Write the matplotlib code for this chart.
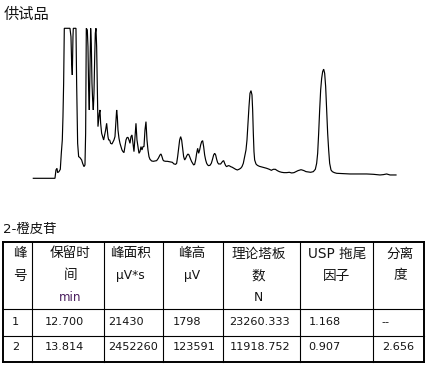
import matplotlib
matplotlib.use("Agg")
import matplotlib.pyplot as plt

plt.rcParams['font.family'] = ['DejaVu Sans', 'Noto Sans CJK SC']

# Chromatogram trace of the sample injection: time (s) and detector response (mV)
time_s = [0, 65, 68, 71, 73, 77, 81, 84, 87, 89, 91, 93, 110, 113, 115, 117, 119, 120, 128,
          130, 133, 136, 140, 145, 148, 152, 155, 157, 158, 159, 162, 164, 166, 168, 170, 172,
          174, 176, 178, 180, 182, 184, 186, 188, 190, 192, 194, 196, 198, 200, 202, 205, 208,
          211, 214, 217, 220, 222, 224, 226, 229, 232, 236, 239, 242, 245, 248, 250, 252, 254,
          257, 260, 263, 266, 269, 272, 275, 278, 281, 284, 287, 290, 293, 296, 299, 302, 305,
          308, 311, 314, 317, 320, 323, 326, 329, 332, 335, 338, 341, 344, 347, 350, 355, 360,
          365, 370, 375, 380, 383, 386, 389, 392, 397, 402, 407, 412, 417, 422, 427, 430, 433,
          436, 439, 442, 445, 448, 451, 454, 457, 460, 463, 466, 469, 472, 475, 478, 481, 484,
          487, 490, 493, 496, 499, 502, 505, 508, 511, 514, 517, 520, 523, 526, 530, 534, 537,
          541, 544, 547, 550, 553, 556, 559, 562, 565, 568, 571, 574, 577, 580, 583, 586, 589,
          592, 597, 602, 607, 612, 617, 622, 626, 630, 634, 638, 641, 644, 647, 650, 653, 656,
          658, 660, 662, 664, 668, 672, 678, 685, 692, 700, 708, 714, 720, 726, 732, 738, 745,
          752, 760, 768, 775, 782, 788, 794, 800, 803, 806, 812, 818, 825, 832, 840, 846, 850,
          853, 856, 859, 862, 865, 868, 871, 874, 877, 880, 883, 886, 889, 893, 897, 903, 910,
          930, 950, 980, 1000, 1020, 1030, 1040, 1050, 1060, 1070, 1088]
signal_mv = [0, 0, 10, 12, 6.8, 8, 10.8, 30, 46, 74, 114, 180, 180, 170, 138, 124, 170, 180, 180,
             114, 42, 26, 24.8, 22, 18, 14, 16, 54, 114, 180, 178, 158, 106, 82, 134, 180,
             162, 114, 94, 82, 102, 142, 174, 180, 158, 110, 62, 70, 78, 82, 66, 54, 50,
             46, 52, 58, 66, 58, 50, 46, 46, 42, 41.2, 43.6, 46, 50, 70, 82, 74, 58,
             48, 42, 38, 34, 32, 30.8, 38, 46, 48.8, 49.2, 46, 42, 50, 52, 42, 32, 50,
             66, 46, 38, 30, 32, 38, 34, 38, 38, 58, 68, 46, 34, 26, 22.8, 20.8, 20.4,
             20.8, 21.2, 24, 28, 29.2, 26, 22, 20.8, 20.4, 20.4, 20, 19.6, 19.2, 17.2, 16.8, 18, 26,
             36, 46, 50, 46, 36, 26, 22, 24, 26.8, 28.8, 28.8, 26, 22.8, 20, 18, 16, 16.8,
             22, 30, 36, 30, 34, 40, 44, 45.2, 38, 28, 22, 18, 16, 15.2, 15.6, 18, 22,
             28, 30, 28, 22.8, 18.8, 17.2, 17.2, 17.2, 18.8, 20.4, 21.2, 18, 15.2, 14, 14.8, 15.2, 14.8,
             14, 13.2, 12, 10.8, 10, 10.8, 12, 14, 18, 26, 34, 46, 66, 86, 102, 105.2, 100,
             82, 54, 32, 22, 17.2, 15.6, 14.4, 13.6, 12.8, 12, 10.8, 9.6, 10.8, 10.8, 9.2, 8, 7.2,
             6.8, 6.8, 7.2, 6.4, 6.8, 8, 9.2, 10.0, 10.3, 10.0, 9.2, 8, 7.6, 7.2, 8, 10.8, 18,
             30, 54, 82, 106, 120, 128, 131, 126, 110, 82, 54, 34, 18, 10, 8, 6.8, 6,
             5.6, 5.2, 5.2, 5.2, 4.8, 4.4, 4, 4.4, 5.2, 4, 4]

# Peak table for 2-橙皮苷
header_lines = [
    ["峰", "号", ""],
    ["保留时", "间", "min"],
    ["峰面积", "µV*s", ""],
    ["峰高", "µV", ""],
    ["理论塔板", "数", "N"],
    ["USP 拖尾", "因子", ""],
    ["分离", "度", ""],
]
peak_no = ["1", "2"]
retention_min = [12.700, 13.814]
area_uvs = [21430, 2452260]
height_uv = [1798, 123591]
plates_n = [23260.333, 11918.752]
usp_tailing = [1.168, 0.907]
resolution = [None, 2.656]

W, H = 428, 366
fig = plt.figure(figsize=(W / 100, H / 100), dpi=100)
fig.patch.set_facecolor("white")

# chromatogram panel
ax = fig.add_axes([33.3 / W, 1 - 178.3 / H, (396 - 33.3) / W, 150 / H])
ax.plot(time_s, signal_mv, color="black", lw=0.85, clip_on=False, solid_joinstyle="miter")
ax.set_xlim(0, 1088)
ax.set_ylim(0, 180)
ax.axis("off")

# overlay in pixel-like layout units for titles and the table
lay = fig.add_axes([0, 0, 1, 1])
lay.set_xlim(0, W)
lay.set_ylim(H, 0)
lay.axis("off")

cjk = ['Noto Sans CJK SC', 'DejaVu Sans']
mixed = ['DejaVu Sans', 'Noto Sans CJK SC']
ink = "#141414"

lay.text(3.5, 14, "供试品", family=cjk, fontsize=11, color=ink, ha="left", va="center")
lay.text(3.5, 229, "2-橙皮苷", family=mixed, fontsize=9.6, color=ink, ha="left", va="center")

col_edges = [3.3, 32.3, 104, 163.3, 222.7, 300, 372.7, 424]
row_edges = [242.3, 309, 335.7, 361.7]

# grid
for i, x in enumerate(col_edges):
    outer = i in (0, len(col_edges) - 1)
    lay.plot([x, x], [row_edges[0], row_edges[-1]], color="black",
             lw=1.4 if outer else 0.8, solid_capstyle="projecting")
for j, y in enumerate(row_edges):
    outer = j in (0, len(row_edges) - 1)
    lay.plot([col_edges[0], col_edges[-1]], [y, y], color="black",
             lw=1.4 if outer else 0.8, solid_capstyle="projecting")

# header cells
header_y = [253.5, 275.5, 297.5]
header_dx = [2.5, 2, -3, -1, -3, 0.5, 1.5]
for c, lines in enumerate(header_lines):
    cx = (col_edges[c] + col_edges[c + 1]) / 2 + header_dx[c]
    for r, s in enumerate(lines):
        if not s:
            continue
        latin_only = all(ord(ch) < 0x2E80 for ch in s)
        if s == "min":
            lay.text(cx, header_y[r], s, family=mixed, fontsize=8.6, color="#4a1f5e",
                     ha="center", va="center")
        elif latin_only:
            lay.text(cx, header_y[r], s, family=mixed, fontsize=8.8, color=ink,
                     ha="center", va="center")
        else:
            lay.text(cx, header_y[r], s, family=mixed, fontsize=9.8, color=ink,
                     ha="center", va="center")

# data rows
data_x = [11.7, 45, 108.3, 172.7, 229.3, 308.3, 381.7]
data_y = [322, 347]
for i in range(len(peak_no)):
    cells = [
        peak_no[i],
        f"{retention_min[i]:.3f}",
        f"{area_uvs[i]}",
        f"{height_uv[i]}",
        f"{plates_n[i]:.3f}",
        f"{usp_tailing[i]:.3f}",
        "--" if resolution[i] is None else f"{resolution[i]:.3f}",
    ]
    for c, s in enumerate(cells):
        lay.text(data_x[c], data_y[i], s, family=mixed, fontsize=8.1, color=ink,
                 ha="left", va="center")

fig.savefig("out.png", dpi=100, facecolor="white")
